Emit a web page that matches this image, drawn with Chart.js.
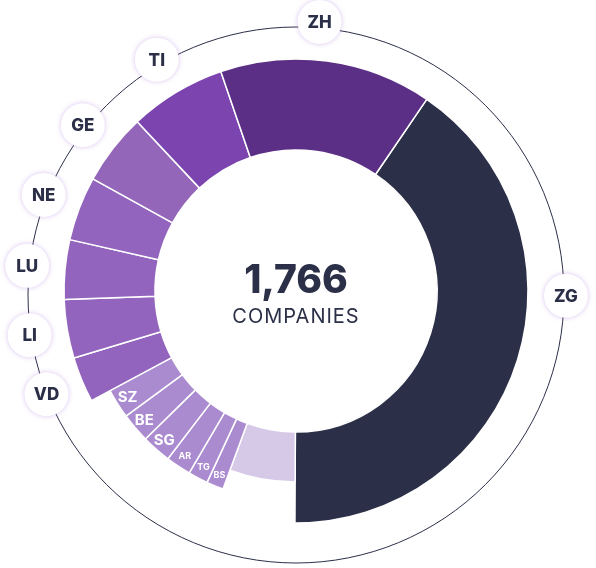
<!DOCTYPE html>
<html>
<head>
<meta charset="utf-8">
<script src="https://cdn.jsdelivr.net/npm/chart.js@4.4.1/dist/chart.umd.min.js"></script>
<style>
  body { margin: 0; background: #fff; }
  .wrap { width: 596px; height: 568px; }
</style>
</head>
<body>
<div class="wrap"><canvas id="cantons"></canvas></div>
<script>
// companies per canton, clockwise starting at ZG
const regions = ['ZG', 'Other', 'BS', 'TG', 'AR', 'SG', 'BE', 'SZ', 'VD', 'LI', 'LU', 'NE', 'GE', 'TI', 'ZH'];
const companies = [716, 98, 23, 27, 34, 40, 40, 40, 56, 72, 73, 79, 88, 119, 261];
const totalText = '1,766';
const totalLabel = 'COMPANIES';

// label groups
const outerLabels = ['ZG', 'ZH', 'TI', 'GE', 'NE', 'LU', 'LI', 'VD'];
const innerBig = ['SZ', 'BE', 'SG'];
const innerSmall = ['AR', 'TG', 'BS'];

// styles
const navy = '#2b2f47';
const colors = {
  ZG: navy, ZH: '#5b2f85', TI: '#7b44ae', GE: '#9466ba',
  NE: '#9264bd', LU: '#9264bd', LI: '#9264bd', VD: '#9264bd',
  SZ: '#ab8bcf', BE: '#ab8bcf', SG: '#ab8bcf', AR: '#ab8bcf', TG: '#ab8bcf', BS: '#ab8bcf',
  Other: '#d6c8e7'
};
// how much of the ring each slice fills
function ringDepth(name) {
  if (name === 'Other') return 0.55;
  if (innerBig.includes(name) || innerSmall.includes(name)) return 0.77;
  return 1;
}
const labelAngleFix = { ZG: 91, ZH: 5 }; // degrees from top
const FONT = 'Inter, "Open Sans", sans-serif';

const cantonPlugin = {
  id: 'cantonPlugin',
  afterDatasetsUpdate(chart) {
    chart.getDatasetMeta(0).data.forEach((arc, i) => {
      arc.outerRadius = arc.innerRadius + (arc.outerRadius - arc.innerRadius) * ringDepth(regions[i]);
    });
  },
  beforeDatasetsDraw(chart) {
    const arc = chart.getDatasetMeta(0).data[0];
    const ctx = chart.ctx;
    ctx.save();
    ctx.strokeStyle = navy;
    ctx.lineWidth = 1;
    ctx.beginPath();
    ctx.arc(arc.x, arc.y + 4, 268, 0, Math.PI * 2);
    ctx.stroke();
    ctx.restore();
  },
  afterDraw(chart) {
    const ctx = chart.ctx;
    const arcs = chart.getDatasetMeta(0).data;
    const cx = arcs[0].x, cy = arcs[0].y;
    ctx.save();
    ctx.textAlign = 'center';
    ctx.textBaseline = 'middle';

    arcs.forEach((arc, i) => {
      const name = regions[i];
      const mid = (arc.startAngle + arc.endAngle) / 2;

      // labels inside the small slices
      if (innerBig.includes(name) || innerSmall.includes(name)) {
        const r = arc.innerRadius + (arc.outerRadius - arc.innerRadius) * 0.83;
        ctx.fillStyle = '#fff';
        ctx.font = innerBig.includes(name) ? `700 15px ${FONT}` : `700 9px ${FONT}`;
        ctx.fillText(name, cx + Math.cos(mid) * r, cy + Math.sin(mid) * r);
      }

      // bubbles on the outer ring
      if (outerLabels.includes(name)) {
        let a = mid;
        if (labelAngleFix[name] !== undefined) a = (labelAngleFix[name] - 90) * Math.PI / 180;
        const x = cx + Math.cos(a) * 270;
        const y = cy + Math.sin(a) * 270;
        ctx.save();
        ctx.shadowColor = 'rgba(170, 120, 220, 0.45)';
        ctx.shadowBlur = 5;
        ctx.fillStyle = '#fff';
        ctx.beginPath();
        ctx.arc(x, y, 22, 0, Math.PI * 2);
        ctx.fill();
        ctx.restore();
        ctx.fillStyle = navy;
        ctx.font = `800 17px ${FONT}`;
        ctx.fillText(name, x, y + 1);
      }
    });

    // total in the middle
    ctx.fillStyle = navy;
    ctx.font = `800 39px ${FONT}`;
    ctx.fillText(totalText, cx, cy - 10);
    ctx.font = `400 20px ${FONT}`;
    ctx.letterSpacing = '1px';
    ctx.fillText(totalLabel, cx, cy + 26);
    ctx.restore();
  }
};

const config = {
  type: 'doughnut',
  data: {
    labels: regions,
    datasets: [{
      data: companies,
      backgroundColor: regions.map(r => colors[r]),
      borderColor: '#fff',
      borderWidth: 1.5,
      hoverOffset: 0
    }]
  },
  options: {
    responsive: true,
    maintainAspectRatio: false,
    animation: false,
    rotation: 34.3,
    radius: 232,
    cutout: '60.8%',
    layout: { padding: { left: 0, right: 4, top: 14, bottom: 0 } },
    plugins: {
      legend: { display: false },
      tooltip: { enabled: false }
    },
    events: []
  },
  plugins: [cantonPlugin]
};

let myChart = new Chart(document.querySelector('#cantons'), config);
</script>
</body>
</html>
